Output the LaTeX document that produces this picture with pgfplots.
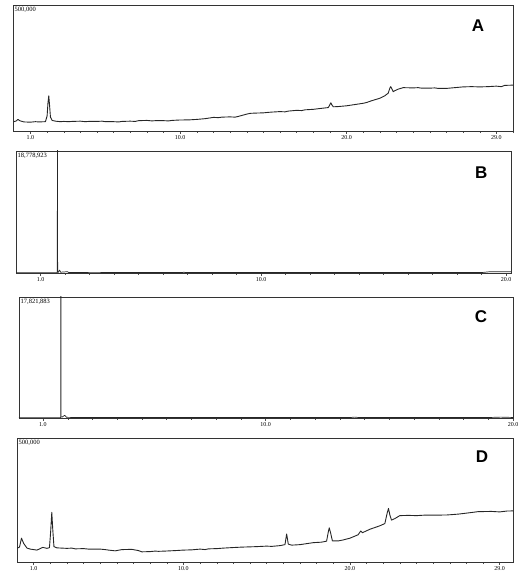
\documentclass[border=0pt]{standalone}
\usepackage{fontspec}
\setmainfont{Liberation Serif}
\newfontfamily\arial{Liberation Sans}
\usepackage{pgfplots}
\pgfplotsset{compat=1.18}

\pgfplotsset{
  chrom/.style={
    scale only axis,
    axis line style={line width=0.6pt, draw=black!80},
    ytick=\empty,
    xtick pos=bottom,
    tick align=outside,
    major tick length=3pt,
    minor tick length=2pt,
    tick style={draw=black!70, line width=0.4pt},
    xticklabel style={font=\fontsize{6}{7}\selectfont, inner sep=1pt},
    ymin=0,
  },
  trace/.style={black!85, line width=0.9pt, line join=round, mark=none},
}
\tikzset{
  corner/.style={font=\fontsize{6.5}{7}\selectfont, anchor=north west, inner sep=1.5pt},
  letter/.style={font=\arial\bfseries\fontsize{17}{18}\selectfont},
}

\begin{document}
\begin{tikzpicture}
\useasboundingbox (0pt,0pt) rectangle (518pt,573pt);

% ---------- A ----------
\begin{axis}[chrom, at={(13pt,442pt)}, anchor=south west, width=500pt, height=126pt,
  xmin=-0.05, xmax=30, ymax=500,
  xtick={1,10,20,29}, xticklabels={1.0,10.0,20.0,29.0},
  minor xtick={2,3,...,30}]
\addplot[trace] coordinates {
 (0.0,37) (0.15,40) (0.25,46) (0.35,41) (0.6,36) (1.0,35) (1.3,37) (1.5,36) (1.9,37)
 (2.0,60) (2.05,110) (2.1,140) (2.15,100) (2.2,55) (2.3,42) (2.5,39)
 (2.8,37) (3.0,38) (3.3,37) (3.5,38) (4,39) (4.3,37) (4.5,38) (5,38) (5.3,39)
 (5.5,37) (6,37) (6.3,36) (6.5,38) (7,39) (7.3,38)
 (7.5,41) (8,42) (8.3,40) (8.5,41) (9,41) (9.3,40) (9.5,42) (10,43.7) (10.5,44) (11,46)
 (11.5,49) (12,54) (12.3,53) (12.5,55) (13,56) (13.3,55) (13.5,58) (14,67) (14.2,70) (14.5,71)
 (15,72) (15.3,74) (15.5,75) (16,77) (16.3,76) (16.5,79) (17,82) (17.3,81) (17.5,84) (18,86) (18.5,90)
 (18.9,93) (19.0,105) (19.05,112) (19.1,105) (19.2,96) (19.5,97) (20,100)
 (20.5,105) (21,110) (21.2,113) (21.5,120) (22,130) (22.3,140) (22.5,150)
 (22.6,170) (22.65,176) (22.7,170) (22.8,156) (22.9,160) (23.1,166)
 (23.4,172) (24,171) (24.3,172) (24.5,170) (25,170) (25.3,171) (25.5,169) (26,169) (26.5,172)
 (27,175) (27.5,176) (28,175) (28.5,176) (29,178) (29.3,176) (29.5,181) (30,182)
};
\node[corner] at (rel axis cs:0,1) {500,000};
\node[letter] at (rel axis cs:0.93,0.84) {A};
\end{axis}

% ---------- B ----------
\begin{axis}[chrom, at={(16pt,300pt)}, anchor=south west, width=495pt, height=122pt,
  xmin=0, xmax=20.2, ymax=18779,
  xtick={1,10,20}, xticklabels={1.0,10.0,20.0},
  minor xtick={2,3,...,19}]
\addplot[trace, line width=0.7pt] coordinates {
 (0,60) (1.67,60) (1.685,120) (1.69,20000) (1.695,20000) (1.70,150)
 (1.73,100) (1.78,450) (1.82,120) (2.1,200) (2.15,80) (3,60) (6.8,70)
 (6.85,130) (6.9,70) (19,70) (19.3,180) (20.2,200)
};
\node[corner] at (rel axis cs:0,1) {18,778,923};
\node[letter] at (rel axis cs:0.94,0.82) {B};
\end{axis}

% ---------- C ----------
\begin{axis}[chrom, at={(19pt,155pt)}, anchor=south west, width=494pt, height=121pt,
  xmin=0.03, xmax=20, ymax=17822,
  xtick={1,10,20}, xticklabels={1.0,10.0,20.0},
  minor xtick={2,3,...,19}]
\addplot[trace, line width=0.7pt] coordinates {
 (0.03,50) (1.70,50) (1.715,120) (1.72,20000) (1.725,20000) (1.73,150)
 (1.78,150) (1.88,400) (1.95,100) (2.5,60) (13.4,60) (13.6,130) (13.8,60)
 (19,70) (19.5,130) (20,80)
};
\node[corner] at (rel axis cs:0,1) {17,821,883};
\node[letter] at (rel axis cs:0.935,0.835) {C};
\end{axis}

% ---------- D ----------
\begin{axis}[chrom, at={(17pt,11pt)}, anchor=south west, width=496pt, height=124pt,
  xmin=0, xmax=29.8, ymax=500,
  xtick={1,10,20,29}, xticklabels={1.0,10.0,20.0,29.0},
  minor xtick={2,3,...,29}]
\addplot[trace] coordinates {
 (0.0,55) (0.15,60) (0.27,96) (0.4,75) (0.6,56) (0.8,52) (1.2,48) (1.55,59)
 (1.8,55) (1.95,58) (2.02,120) (2.09,200) (2.15,130) (2.22,62) (2.4,57)
 (2.7,56) (3,55) (3.3,56) (3.5,53) (4,54) (4.3,52) (4.5,52) (5,52) (5.3,50) (5.5,48) (5.9,45) (6.3,50) (6.9,51)
 (7.3,46) (7.5,41) (8,42) (8.3,44) (8.5,43) (8.9,44) (9.5,46) (10,48) (10.5,49)
 (11,52) (11.3,50) (11.5,53) (12,54) (12.4,56) (12.9,58) (13.5,60) (14.4,62) (15,64) (15.3,63) (15.8,66)
 (16.1,70) (16.2,113) (16.3,72) (16.5,68) (17,70) (17.5,75) (17.8,78)
 (18.3,80) (18.6,84) (18.7,120) (18.76,138) (18.85,115) (18.95,85)
 (19.3,85) (19.6,89) (20,96) (20.5,110) (20.65,125) (20.75,118) (21.2,132)
 (21.8,146) (22.1,155) (22.25,200) (22.32,216) (22.4,190) (22.5,169)
 (22.7,175) (23.0,187) (23.5,188) (24,187) (24.5,189) (25,189) (25.8,189.5) (26.5,193)
 (27,197) (27.7,203) (28.5,204) (29,202) (29.45,205.6) (29.8,206)
};
\node[corner] at (rel axis cs:0,1) {500,000};
\node[letter] at (rel axis cs:0.9375,0.847) {D};
\end{axis}
\end{tikzpicture}
\end{document}
